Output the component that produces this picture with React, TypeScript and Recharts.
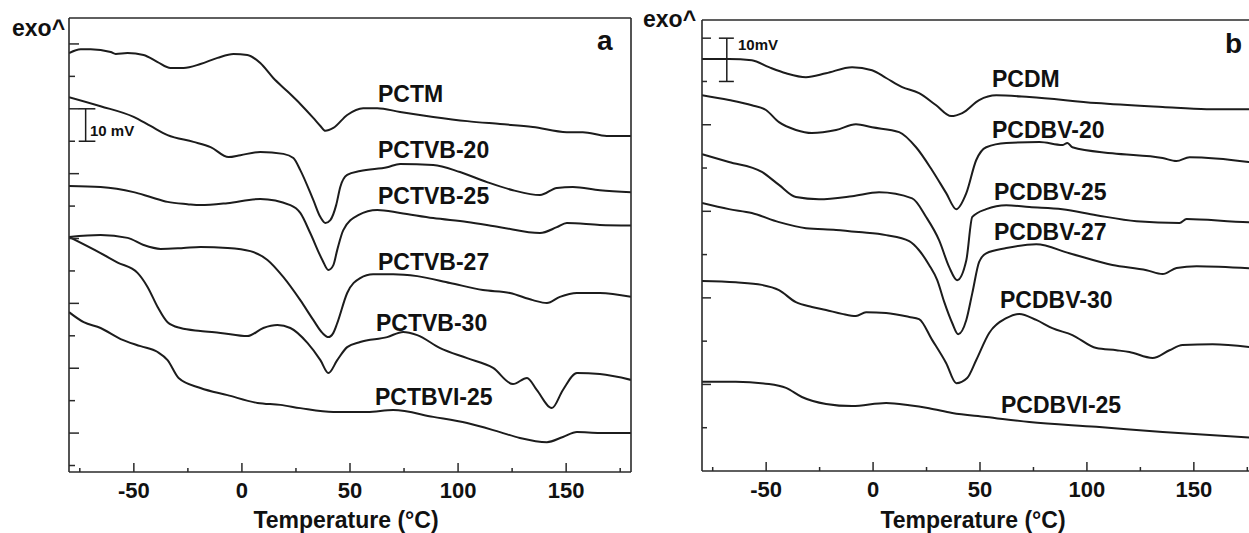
import React from "react";
import { LineChart, Line, XAxis, YAxis, ReferenceLine } from "recharts";

const FONT = "'Liberation Sans', Arial, Helvetica, sans-serif";
const INK = "#1c1c1c";
const FRAME = "#2a2a2a";

// temperature ticks shared by both panels
const X_TICKS = [-75, -50, -25, 0, 25, 50, 75, 100, 125, 150, 175];
const Y_TICKS_A = [0, 10, 20, 30, 40, 50, 60, 70, 80, 90, 100, 110, 120, 130];
const Y_TICKS_B = [10, 20, 30, 40, 50, 60, 70, 80, 90, 100];

// panel a — [temperature °C, heat flow mV (offset stack)]
const PCTM = [[-80,127.2],[-74.6,128.4],[-70,128.4],[-60.7,127.5],[-58.4,126.9],[-52.9,127.2],[-45.5,126.6],[-39,124.4],[-33,122.6],[-27,122.6],[-19.2,123.8],[-11.3,125.7],[-3.9,126.9],[2.5,126.6],[8.5,124.1],[14.5,119.5],[21,115.4],[27,111.5],[33,107.2],[36.3,104.7],[38.6,103.2],[42.3,104.1],[48.7,108.1],[56.1,110.2],[62.6,110.2],[73.2,109.0],[88.5,107.5],[104.2,106.2],[119.4,105.3],[134.6,104.4],[150.3,102.8],[157.7,102.8],[168.8,101.6],[180,101.6]];
const PCTVB20 = [[-80,113.6],[-65.4,110.8],[-50.1,107.5],[-42.3,104.7],[-34.4,101.9],[-22.4,99.8],[-14.5,98.2],[-6.2,95.1],[-0.7,95.7],[8.5,96.7],[19.2,96.1],[23.8,94.8],[27,91.1],[33,81.9],[36.3,76.6],[38.6,74.8],[40.9,75.7],[43.6,80.3],[45.5,85.9],[48.7,89.6],[54.7,90.8],[67.2,92.0],[73.2,93.0],[88.5,92.7],[100.9,90.5],[113.4,87.4],[125.4,84.9],[137.9,83.4],[145.7,85.6],[153.1,85.9],[165.6,84.9],[180,84.3]];
const PCTVB25 = [[-80,86.2],[-65.4,85.9],[-50.1,84.3],[-42.3,82.8],[-34.4,81.3],[-25.2,80.6],[-19.2,80.3],[-6.7,80.9],[8.5,82.2],[22.4,80.3],[27,77.9],[31.6,71.7],[37.2,63.4],[40,60.3],[42.3,61.8],[44.1,66.5],[46.9,72.6],[53.8,77.2],[62.6,78.8],[73.2,77.9],[88.5,76.3],[104.2,75.1],[119.4,73.5],[137.9,71.7],[145.7,73.5],[150.3,74.8],[165.6,74.2],[180,74.0]];
const PCTVB27 = [[-80,70.5],[-65.4,71.1],[-52.9,70.2],[-45.5,68.0],[-37.6,66.8],[-27,67.1],[-19.2,67.4],[-6.7,67.1],[3.9,66.1],[11.8,63.4],[19.2,58.1],[27,51.0],[33,44.9],[37.2,40.9],[40,39.6],[42.3,40.9],[44.1,43.9],[48.7,53.2],[54.7,57.8],[60.7,59.0],[70,59.0],[81.1,58.4],[96.3,56.3],[111.5,54.1],[124,53.2],[134.6,51.0],[141.1,50.1],[147.1,52.0],[155,53.2],[165.6,53.2],[180,52.0]];
const PCTVB30 = [[-80,70.5],[-65.4,65.5],[-57.5,62.6],[-48.3,59.4],[-43.6,55.0],[-39,48.9],[-34.4,44.2],[-28.4,42.4],[-19.2,41.5],[-9.9,40.9],[2.5,39.9],[9.9,42.4],[16.4,43.3],[22.4,42.4],[30.3,37.8],[36.3,32.5],[40,28.5],[44.1,32.5],[48.7,36.5],[54.7,38.1],[67.2,39.6],[74.6,41.2],[81.1,40.2],[91.7,36.2],[104.2,33.1],[116.2,30.1],[125.4,25.1],[131.9,27.0],[136.4,23.3],[143.4,17.7],[148.5,23.3],[155,28.5],[165.6,28.2],[180,26.4]];
const PCTBVI25 = [[-80,47.3],[-73.2,44.2],[-65.4,42.4],[-56.1,39.0],[-46.9,36.8],[-39,35.0],[-34.4,32.5],[-29.3,27.0],[-19.2,23.9],[-6.7,21.7],[7.2,19.3],[17.8,18.7],[27,17.7],[42.3,16.5],[58,16.5],[70,17.1],[88.5,15.0],[104.2,13.1],[119.4,10.3],[128.6,8.5],[141.1,7.2],[148.5,8.8],[155,10.3],[165.6,10.0],[180,10.0]];

// panel b
const PCDM = [[-80,95.2],[-67.4,95.2],[-56.7,94.9],[-48.7,93.3],[-40.7,91.9],[-31.4,91.0],[-22,91.9],[-9.8,93.3],[-0.5,92.6],[6.1,90.8],[13.6,88.7],[21.5,87.3],[29.5,84.5],[36.5,82.0],[41.7,82.7],[49.6,85.7],[57.6,86.8],[73.1,86.4],[104.4,85.0],[135.4,84.1],[156,83.6],[180,83.6]];
const PCDBV20 = [[-80,86.8],[-67.4,85.7],[-56.7,84.5],[-50.1,83.4],[-44,80.6],[-36.1,78.8],[-28.6,78.1],[-17.3,78.8],[-8,80.1],[-0.5,79.4],[12.2,78.3],[20.1,74.8],[27.6,69.5],[34.2,64.2],[38.9,60.5],[43.6,64.2],[48.2,71.8],[52.9,74.8],[62.3,75.8],[77.8,76.0],[88.5,75.3],[90.9,75.8],[93.2,74.8],[111.9,73.4],[135.4,72.3],[141.9,71.6],[148,72.5],[175.6,71.4],[180,71.1]];
const PCDBV25 = [[-80,73.2],[-67.4,71.4],[-52,69.1],[-44,66.1],[-36.1,63.3],[-25.3,62.8],[-9.8,63.5],[2.8,64.4],[18.3,63.0],[24.8,58.7],[30.9,53.3],[35.6,47.1],[39.3,44.1],[43.6,48.7],[46.4,58.7],[52.9,60.5],[62.3,61.4],[73.1,61.0],[88.5,60.5],[104.4,59.1],[123.2,57.7],[143.3,57.3],[146.6,58.2],[175.6,57.5],[180,57.5]];
const PCDBV27 = [[-80,61.9],[-67.4,60.5],[-56.7,59.6],[-44,57.5],[-31.4,56.1],[-17.3,55.7],[-6.6,55.2],[6.1,54.5],[16.9,53.1],[21.5,51.0],[26.2,47.6],[30,44.1],[33.3,39.0],[37,34.2],[39.8,31.6],[43.6,34.9],[46.4,41.1],[49.6,48.3],[52.9,50.3],[62.3,51.5],[76.3,52.4],[91.8,50.3],[111.9,47.6],[127.9,46.4],[135.4,45.5],[141.9,46.9],[151.3,47.3],[180,46.7]];
const PCDBV30 = [[-80,43.9],[-64.2,43.6],[-52,43.0],[-44,41.8],[-36.1,39.0],[-28.6,37.9],[-22,37.2],[-14.5,36.3],[-8,35.8],[-3.3,36.7],[6.1,36.5],[16.9,35.6],[21.5,35.1],[27.6,30.3],[34.2,24.9],[38.9,20.3],[44,21.5],[48.2,25.6],[54.3,31.9],[62.3,35.3],[68.4,36.3],[76.3,34.9],[83.8,33.0],[93.2,31.4],[104.4,28.4],[113.8,27.9],[119.9,27.5],[130.7,26.1],[138.6,27.9],[144.7,29.1],[158.8,29.3],[180,28.4]];
const PCDBVI25 = [[-80,20.6],[-64.2,20.6],[-48.7,20.1],[-40.7,19.2],[-33.3,17.1],[-22,15.5],[-9.8,15.0],[6.1,15.7],[16.9,15.2],[26.2,14.5],[37,13.4],[52.9,12.5],[73.1,11.3],[104.4,10.2],[135.4,9.0],[180,7.6]];

const SERIES_A = [PCTM, PCTVB20, PCTVB25, PCTVB27, PCTVB30, PCTBVI25];
const SERIES_B = [PCDM, PCDBV20, PCDBV25, PCDBV27, PCDBV30, PCDBVI25];

const NAMES_A = ["PCTM", "PCTVB-20", "PCTVB-25", "PCTVB-27", "PCTVB-30", "PCTBVI-25"];
const NAMES_B = ["PCDM", "PCDBV-20", "PCDBV-25", "PCDBV-27", "PCDBV-30", "PCDBVI-25"];

const toRows = (arr: number[][]) => arr.map(([t, v]) => ({ t, v }));

const BottomTick = (p: any) => {
  const { x, y, payload } = p;
  const major = payload.value % 50 === 0;
  return (
    <g>
      <line x1={x} y1={y} x2={x} y2={y - (major ? 9 : 4)} stroke={FRAME} strokeWidth={1.5} />
      {major && (
        <text x={x} y={y + 26} textAnchor="middle" fontSize={22} fontWeight="bold" fill="#111" fontFamily={FONT}>
          {payload.value}
        </text>
      )}
    </g>
  );
};

const TopTick = (p: any) => (
  <line x1={p.x} y1={p.y} x2={p.x} y2={p.y + 3} stroke={FRAME} strokeWidth={1.2} />
);

const makeLeftTick = (isMajor: (v: number) => boolean, long: number, short: number) => (p: any) => (
  <line x1={p.x} y1={p.y} x2={p.x + (isMajor(p.payload.value) ? long : short)} y2={p.y} stroke={FRAME} strokeWidth={1.5} />
);

const RightTick = (p: any) => (
  <line x1={p.x} y1={p.y} x2={p.x - 4} y2={p.y} stroke={FRAME} strokeWidth={1.2} />
);

type PanelProps = {
  series: number[][][];
  yDomain: [number, number];
  yTicks: number[];
  leftTick: (p: any) => React.ReactElement;
  margin: { top: number; right: number; bottom: number; left: number };
  bar: { x: number; x0: number; x1: number; y0: number; y1: number };
};

function Panel({ series, yDomain, yTicks, leftTick, margin, bar }: PanelProps) {
  const axisLine = { stroke: FRAME, strokeWidth: 1.6 };
  return (
    <LineChart width={640} height={533} margin={margin}>
      <XAxis type="number" dataKey="t" domain={[-80, 180]} ticks={X_TICKS} interval={0}
        height={1} tickSize={0} tickMargin={0} tickLine={false} axisLine={axisLine} tick={BottomTick} allowDataOverflow />
      <XAxis xAxisId="top" orientation="top" type="number" domain={[-80, 180]} ticks={X_TICKS} interval={0}
        height={1} tickSize={0} tickMargin={0} tickLine={false} axisLine={axisLine} tick={TopTick} />
      <YAxis type="number" domain={yDomain} ticks={yTicks} interval={0} width={1}
        tickSize={0} tickMargin={0} tickLine={false} axisLine={axisLine} tick={leftTick} allowDataOverflow />
      <YAxis yAxisId="right" orientation="right" type="number" domain={yDomain} ticks={yTicks} interval={0} width={1}
        tickSize={0} tickMargin={0} tickLine={false} axisLine={axisLine} tick={RightTick} />
      {/* 10 mV scale bar */}
      <ReferenceLine segment={[{ x: bar.x, y: bar.y0 }, { x: bar.x, y: bar.y1 }]} stroke={INK} strokeWidth={1.5} />
      <ReferenceLine segment={[{ x: bar.x0, y: bar.y0 }, { x: bar.x1, y: bar.y0 }]} stroke={INK} strokeWidth={1.5} />
      <ReferenceLine segment={[{ x: bar.x0, y: bar.y1 }, { x: bar.x1, y: bar.y1 }]} stroke={INK} strokeWidth={1.5} />
      {series.map((s, i) => (
        <Line key={i} data={toRows(s)} dataKey="v" type="monotone" stroke={INK} strokeWidth={2}
          dot={false} activeDot={false} isAnimationActive={false} />
      ))}
    </LineChart>
  );
}

const bold = { fontFamily: FONT, fontWeight: "bold" as const, fill: "#111" };

export default function App() {
  const labelPosA = [[378, 102], [378, 158], [378, 204], [378, 270], [376, 331], [375, 405]];
  const labelPosB = [[992, 87], [992, 138], [994, 200], [994, 240], [1000, 308], [1001, 413]];
  return (
    <div style={{ position: "absolute", left: 0, top: 0, width: 1249, height: 533, overflow: "hidden", background: "#fff" }}>
      <div style={{ position: "absolute", left: 0, top: 0 }}>
        <Panel
          series={SERIES_A}
          yDomain={[-2, 138]}
          yTicks={Y_TICKS_A}
          leftTick={makeLeftTick((v) => v % 20 === 10, 10, 6)}
          margin={{ top: 17, right: 8, bottom: 60, left: 68 }}
          bar={{ x: -72.3, x0: -75.5, x1: -67.8, y0: 100, y1: 110 }}
        />
      </div>
      <div style={{ position: "absolute", left: 640, top: 0 }}>
        <Panel
          series={SERIES_B}
          yDomain={[0, 104.2]}
          yTicks={Y_TICKS_B}
          leftTick={makeLeftTick((v) => v % 20 === 0, 9, 5)}
          margin={{ top: 19, right: 21, bottom: 61, left: 61 }}
          bar={{ x: -68.4, x0: -72.1, x1: -65.1, y0: 90, y1: 100 }}
        />
      </div>
      <svg width={1249} height={533} style={{ position: "absolute", left: 0, top: 0, pointerEvents: "none" }}>
        <text x={12} y={36} fontSize={23} {...bold}>exo^</text>
        <text x={643} y={27} fontSize={23} {...bold}>exo^</text>
        <text x={597} y={50} fontSize={28} {...bold}>a</text>
        <text x={1225} y={53} fontSize={28} {...bold}>b</text>
        <text x={90} y={136} fontSize={15} {...bold}>10 mV</text>
        <text x={738} y={50} fontSize={15} {...bold}>10mV</text>
        {NAMES_A.map((n, i) => (
          <text key={n} x={labelPosA[i][0]} y={labelPosA[i][1]} fontSize={23} {...bold}>{n}</text>
        ))}
        {NAMES_B.map((n, i) => (
          <text key={n} x={labelPosB[i][0]} y={labelPosB[i][1]} fontSize={23} {...bold}>{n}</text>
        ))}
        <text x={346} y={528} fontSize={23} textAnchor="middle" {...bold}>Temperature (°C)</text>
        <text x={973} y={528} fontSize={23} textAnchor="middle" {...bold}>Temperature (°C)</text>
      </svg>
    </div>
  );
}
